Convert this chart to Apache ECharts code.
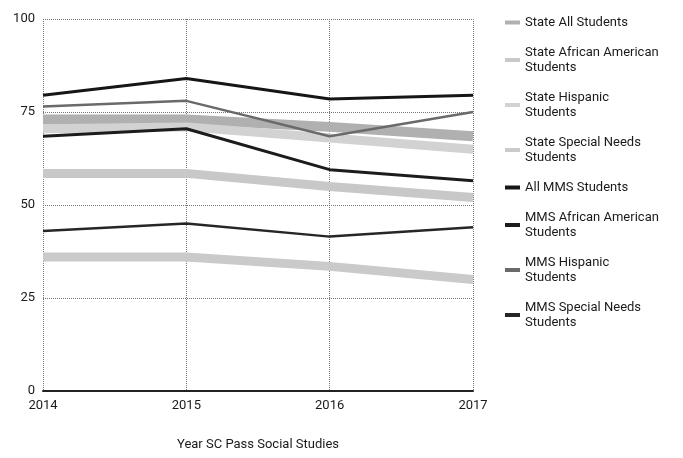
<!DOCTYPE html>
<html>
<head>
<meta charset="utf-8">
<script src="https://cdn.jsdelivr.net/npm/echarts@6/dist/echarts.min.js"></script>
<style>
  html, body { margin: 0; padding: 0; background: #fff; }
  #chart { width: 683px; height: 458px; }
</style>
</head>
<body>
<div id="chart"></div>
<script>
// Pass rates (%) for the social studies SC test, by year
const years = ['2014', '2015', '2016', '2017'];

const stateAll      = [73, 73, 71, 68.5];
const stateAfrAm    = [58.5, 58.5, 55, 52];
const stateHispanic = [70.5, 71, 68, 65];
const stateSpecial  = [36, 36, 33.5, 30];

const mmsAll        = [79.5, 84, 78.5, 79.5];
const mmsAfrAm      = [68.5, 70.5, 59.5, 56.5];
const mmsHispanic   = [76.5, 78, 68.5, 75];
const mmsSpecial    = [43, 45, 41.5, 44];

const FONT = 'Roboto, "Liberation Sans", sans-serif';

function line(name, data, color, width, z) {
  return {
    name: name,
    type: 'line',
    data: data,
    symbol: 'none',
    z: z,
    itemStyle: { color: color },
    lineStyle: { color: color, width: width },
    emphasis: { disabled: true }
  };
}

const series = [
  line('State All Students', stateAll, '#b0b0b0', 10, 2),
  line('State African American Students', stateAfrAm, '#c8c8c8', 9, 2),
  line('State Hispanic Students', stateHispanic, '#d2d2d2', 9, 2),
  line('State Special Needs Students', stateSpecial, '#cacaca', 9, 2),
  line('All MMS Students', mmsAll, '#161616', 3, 3),
  line('MMS African American Students', mmsAfrAm, '#1c1c1c', 3, 3),
  line('MMS Hispanic Students', mmsHispanic, '#6a6a6a', 2.5, 3),
  line('MMS Special Needs Students', mmsSpecial, '#262626', 2.5, 3)
];

const chart = echarts.init(document.getElementById('chart'), null, { renderer: 'canvas' });
chart.setOption({
  animation: false,
  backgroundColor: '#ffffff',
  textStyle: { fontFamily: FONT },
  grid: { left: 43, right: 210, top: 19, bottom: 67, containLabel: false },
  legend: {
    orient: 'vertical',
    left: 500,
    top: 10,
    icon: 'rect',
    itemWidth: 15,
    itemHeight: 4,
    itemGap: 15,
    selectedMode: false,
    textStyle: { fontFamily: FONT, fontSize: 13, color: '#1a1a1a', lineHeight: 15 },
    formatter: function (name) {
      if (name.length <= 18) return name;
      const i = name.lastIndexOf(' ');
      return name.slice(0, i) + '\n' + name.slice(i + 1);
    },
    data: series.map(s => s.name)
  },
  xAxis: {
    type: 'category',
    data: years,
    boundaryGap: false,
    name: 'Year SC Pass Social Studies',
    nameLocation: 'middle',
    nameGap: 47,
    nameTextStyle: { fontFamily: FONT, fontSize: 13, color: '#1a1a1a' },
    axisLine: { show: true, lineStyle: { color: '#222', width: 2 } },
    axisTick: { show: false },
    axisLabel: { fontFamily: FONT, fontSize: 13, color: '#1a1a1a', margin: 8 },
    splitLine: { show: true, lineStyle: { color: '#777', type: 'dotted', width: 1 } }
  },
  yAxis: {
    type: 'value',
    min: 0,
    max: 100,
    interval: 25,
    axisLine: { show: false },
    axisTick: { show: false },
    axisLabel: { fontFamily: FONT, fontSize: 13, color: '#1a1a1a', margin: 8 },
    splitLine: { show: true, lineStyle: { color: '#777', type: 'dotted', width: 1 } }
  },
  series: series
});
</script>
</body>
</html>
